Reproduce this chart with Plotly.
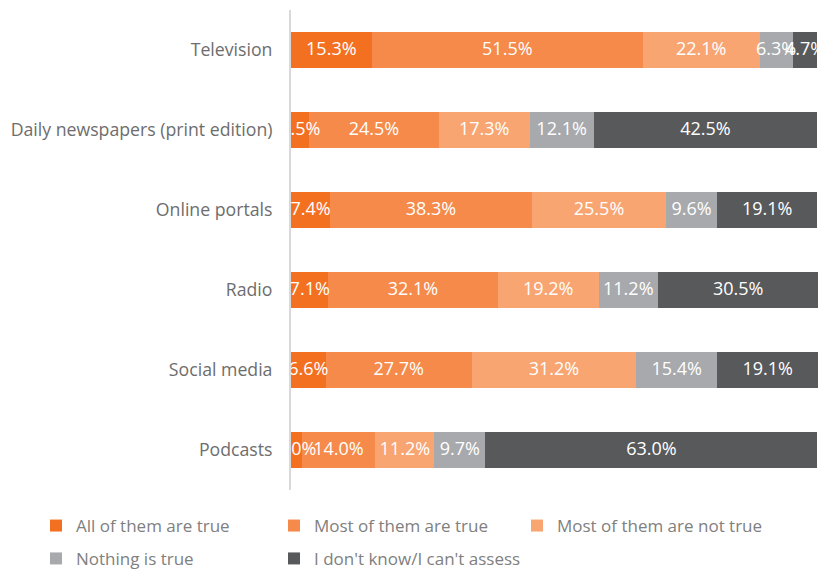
import plotly.graph_objects as go

categories = ["Television", "Daily newspapers (print edition)", "Online portals", "Radio", "Social media", "Podcasts"]
series_names = ["All of them are true", "Most of them are true", "Most of them are not true",
                "Nothing is true", "I don't know/I can't assess"]
all_true = [15.3, 3.5, 7.4, 7.1, 6.6, 2.0]
most_true = [51.5, 24.5, 38.3, 32.1, 27.7, 14.0]
most_not_true = [22.1, 17.3, 25.5, 19.2, 31.2, 11.2]
nothing_true = [6.3, 12.1, 9.6, 11.2, 15.4, 9.7]
dont_know = [4.7, 42.5, 19.1, 30.5, 19.1, 63.0]

series = [all_true, most_true, most_not_true, nothing_true, dont_know]
colors = ["#F37021", "#F58A4A", "#F8A572", "#A7A9AC", "#58595B"]
legend_ids = ["legend", "legend2", "legend3", "legend4", "legend5"]

FONT = "Open Sans, sans-serif"

fig = go.Figure()
for name, vals, col, lg in zip(series_names, series, colors, legend_ids):
    fig.add_trace(go.Bar(
        y=categories, x=vals, orientation="h", name=name,
        marker=dict(color=col, line=dict(width=0)),
        hoverinfo="skip", legend=lg,
    ))

# value labels drawn on top of all bars (clipped to the plot area)
cum = [0.0] * len(categories)
for vals in series:
    mids = [c + v / 2 for c, v in zip(cum, vals)]
    fig.add_trace(go.Scatter(
        x=mids, y=categories, mode="text",
        text=[f"{v:.1f}%" for v in vals],
        textposition="middle center",
        textfont=dict(family=FONT, size=18, color="white"),
        showlegend=False, hoverinfo="skip", cliponaxis=True,
    ))
    cum = [c + v for c, v in zip(cum, vals)]

legend_common = dict(orientation="h", xanchor="left", yanchor="top", itemwidth=30,
                     font=dict(size=17, color="#808080"), bgcolor="rgba(0,0,0,0)")
row1_y, row2_y = -0.0375, -0.106
col_x = [-0.4839, -0.0323, 0.4288]

fig.update_layout(
    width=818, height=569,
    margin=dict(l=291, r=0, t=10, b=79, autoexpand=False),
    barmode="stack", bargap=0.55,
    plot_bgcolor="white", paper_bgcolor="white",
    font=dict(family=FONT, color="#6D6D6D"),
    xaxis=dict(range=[0, 100], visible=False, fixedrange=True),
    yaxis=dict(autorange="reversed", showline=True, linecolor="#D9D9D9", linewidth=2,
               ticks="", tickfont=dict(size=17.7, color="#6D6D6D"), ticklabelstandoff=13,
               showgrid=False, fixedrange=True),
    legend=dict(x=col_x[0], y=row1_y, **legend_common),
    legend2=dict(x=col_x[1], y=row1_y, **legend_common),
    legend3=dict(x=col_x[2], y=row1_y, **legend_common),
    legend4=dict(x=col_x[0], y=row2_y, **legend_common),
    legend5=dict(x=col_x[1], y=row2_y, **legend_common),
    showlegend=True,
)

fig.write_html("out.html", config={"displayModeBar": False},
               post_script="document.body.style.margin='0';document.body.style.overflow='hidden';")
